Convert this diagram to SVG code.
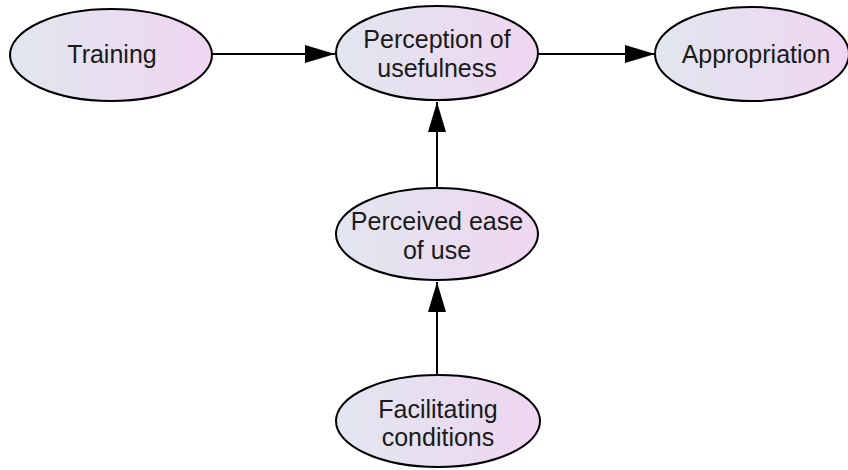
<svg xmlns="http://www.w3.org/2000/svg" width="848" height="470" viewBox="0 0 848 470">
  <defs>
    <linearGradient id="nodeFill" x1="0" y1="0" x2="1" y2="0">
      <stop offset="0" stop-color="#e1e6ef"/>
      <stop offset="1" stop-color="#efd6f1"/>
    </linearGradient>
    <marker id="arrow" viewBox="0 0 30 18" refX="30" refY="9" markerWidth="30" markerHeight="18" markerUnits="userSpaceOnUse" orient="auto">
      <path d="M0,0 L30,9 L0,18 Z" fill="#000"/>
    </marker>
  </defs>
  <style>
    .node ellipse { fill: url(#nodeFill); stroke: #000; stroke-width: 2; }
    .node text { font-family: "Liberation Sans", Arial, sans-serif; font-size: 25px; fill: #1a1a1a; text-anchor: middle; }
    .edge { stroke: #000; stroke-width: 2; fill: none; marker-end: url(#arrow); }
  </style>
  <rect width="848" height="470" fill="#fff"/>

  <g id="connectors">
    <line class="edge" x1="212" y1="54" x2="335" y2="54"/>
    <line class="edge" x1="539" y1="54" x2="655" y2="54"/>
    <line class="edge" x1="437" y1="188" x2="437" y2="102"/>
    <line class="edge" x1="437" y1="375" x2="437" y2="282"/>
  </g>

  <g id="training" class="node">
    <ellipse cx="111" cy="55" rx="101" ry="46"/>
    <text x="112" y="63">Training</text>
  </g>

  <g id="perception-of-usefulness" class="node">
    <ellipse cx="437" cy="53" rx="101" ry="47"/>
    <text x="437" y="48">Perception of</text>
    <text x="437" y="77">usefulness</text>
  </g>

  <g id="appropriation" class="node">
    <ellipse cx="752" cy="54" rx="97" ry="47"/>
    <text x="756" y="63">Appropriation</text>
  </g>

  <g id="perceived-ease-of-use" class="node">
    <ellipse cx="437" cy="234" rx="101" ry="46"/>
    <text x="437" y="230">Perceived ease</text>
    <text x="437" y="259">of use</text>
  </g>

  <g id="facilitating-conditions" class="node">
    <ellipse cx="438" cy="421" rx="102" ry="46"/>
    <text x="438" y="418">Facilitating</text>
    <text x="438" y="446">conditions</text>
  </g>
</svg>
